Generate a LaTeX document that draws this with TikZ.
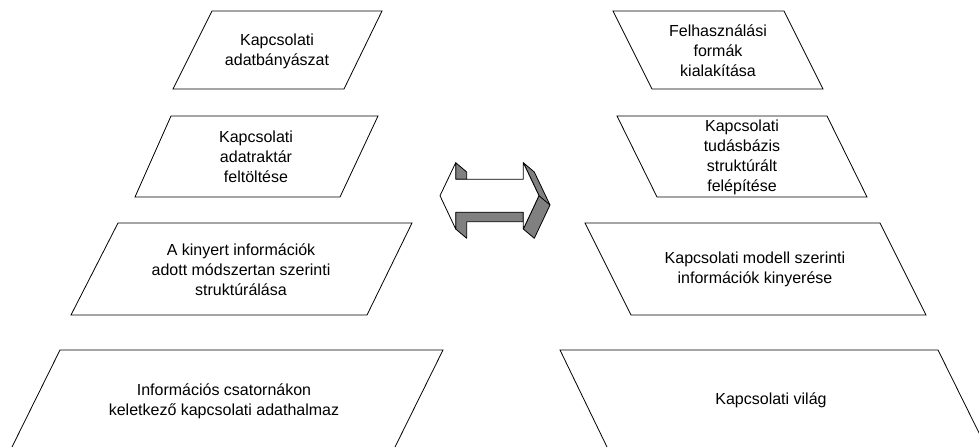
\documentclass[tikz,border=0pt]{standalone}
\usepackage{fontspec}
\setmainfont{Liberation Sans}
\begin{document}
\begin{tikzpicture}[x=1pt,y=-1pt,
  box/.style={draw=black,line width=0.8pt,line join=miter},
  label/.style={align=center,inner sep=0pt,font=\fontsize{16}{20}\selectfont},
  face/.style={draw=black,fill=white,line width=0.8pt,line join=round},
  side/.style={draw=black,fill=arrowgray,line width=0.8pt,line join=round}]
\definecolor{arrowgray}{RGB}{128,128,128}
\useasboundingbox (0,0) rectangle (979,447);
\clip (0,0) rectangle (979,447);

% left column: process steps
\draw[box] (212,11) -- (382,11) -- (344,89) -- (173,89) -- cycle;
\node[label] (l1) at (277,51) {Kapcsolati\\adatbányászat};

\draw[box] (171,116) -- (378,116) -- (340,197) -- (135,197) -- cycle;
\node[label] (l2) at (256,157) {Kapcsolati\\adatraktár\\feltöltése};

\draw[box] (118,223) -- (412,223) -- (367,315) -- (71,315) -- cycle;
\node[label] (l3) at (241,270) {A kinyert információk\\adott módszertan szerinti\\struktúrálása};

\draw[box] (12,447) -- (60,350) -- (443,350) -- (395,447);
\node[label] (l4) at (224,401) {Információs csatornákon\\keletkező kapcsolati adathalmaz};

% right column: mirrored steps
\draw[box] (613,11) -- (784,11) -- (823,89) -- (652,89) -- cycle;
\node[label] (r1) at (718,51) {Felhasználási\\formák\\kialakítása};

\draw[box] (617,116) -- (827,116) -- (867,197) -- (657,197) -- cycle;
\node[label] (r2) at (742,157) {Kapcsolati\\tudásbázis\\struktúrált\\felépítése};

\draw[box] (585,223) -- (880,223) -- (926,315) -- (631,315) -- cycle;
\node[label] (r3) at (755,269) {Kapcsolati modell szerinti\\információk kinyerése};

\draw[box] (607,447) -- (560,350) -- (938,350) -- (986,447);
\node[label] (r4) at (771,400) {Kapcsolati világ};

% central 3D double arrow
\draw[side] (455.7,162.7) -- (466.7,172) -- (466.7,179.3) -- (455.7,179.3) -- cycle;
\draw[side] (455.7,212.3) -- (523.3,212.3) -- (523.3,221.7) -- (466.7,221.7)
  -- (466.7,238.3) -- (455.7,229) -- cycle;
\draw[side] (523.3,162.7) -- (534.3,172) -- (550,205) -- (534.3,238.3)
  -- (523.3,229) -- (539,195.7) -- cycle;
\draw[side] (539,195.7) -- (550,205);
\draw[face] (440,195.7) -- (455.7,162.7) -- (455.7,179.3) -- (523.3,179.3)
  -- (523.3,162.7) -- (539,195.7) -- (523.3,229) -- (523.3,212.3)
  -- (455.7,212.3) -- (455.7,229) -- cycle;
\end{tikzpicture}
\end{document}
